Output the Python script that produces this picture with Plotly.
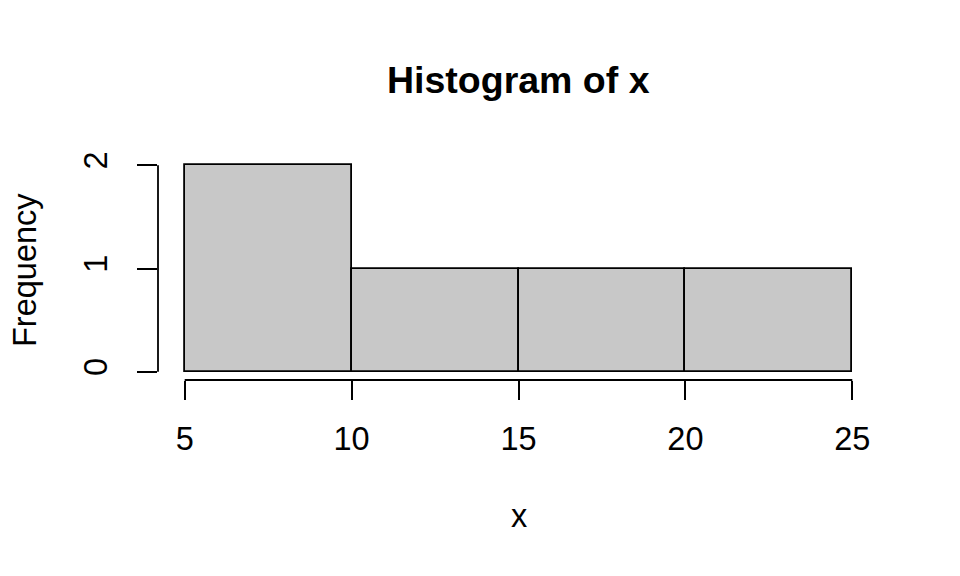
import plotly.graph_objects as go

# Data
bin_edges = [5, 10, 15, 20, 25]
counts = [2, 1, 1, 1]
x_ticks = [5, 10, 15, 20, 25]
y_ticks = [0, 1, 2]
title_text = "Histogram of x"
x_label = "x"
y_label = "Frequency"

centers = [(a + b) / 2 for a, b in zip(bin_edges[:-1], bin_edges[1:])]
widths = [b - a for a, b in zip(bin_edges[:-1], bin_edges[1:])]

FONT = "Liberation Sans, Arial, Helvetica, sans-serif"
LW = 1.8
FS = 32.5
FS_TITLE = 37.5

# page body has an 8px margin; target screen coordinates are offset by it
OFF = 8
W, H = 960, 576
L_scr, R_scr, T_scr, B_scr = 158, 879, 157, 380
ml = L_scr - OFF
mr = W - (R_scr - OFF)
mt = T_scr - OFF
mb = H - (B_scr - OFF)
plot_w = W - ml - mr
plot_h = H - mt - mb

def py(scr_y):
    return (H - mb - (scr_y - OFF)) / plot_h

def px(scr_x):
    return ((scr_x - OFF) - ml) / plot_w

fig = go.Figure()
fig.add_trace(go.Bar(
    x=centers, y=counts, width=widths,
    marker=dict(color="#C8C8C8", line=dict(color="black", width=LW)),
    hoverinfo="skip",
))

xmin, xmax = min(bin_edges), max(bin_edges)
xpad = 0.04 * (xmax - xmin)
ymax = max(counts)
ypad = 0.04 * ymax

fig.update_layout(
    width=W, height=H,
    margin=dict(l=ml, r=mr, t=mt, b=mb),
    paper_bgcolor="white", plot_bgcolor="white",
    showlegend=False,
    bargap=0,
    font=dict(family=FONT, size=FS, color="black"),
    xaxis=dict(
        range=[xmin - xpad, xmax + xpad],
        tickvals=x_ticks, ticktext=[str(v) for v in x_ticks],
        ticks="outside", ticklen=19, tickwidth=LW, tickcolor="black",
        showline=False, showgrid=False, zeroline=False,
        tickfont=dict(size=FS), ticklabelstandoff=11,
    ),
    yaxis=dict(
        range=[-ypad, ymax + ypad],
        tickvals=y_ticks, ticktext=[str(v) for v in y_ticks],
        ticks="outside", ticklen=20, tickwidth=LW, tickcolor="black",
        showline=False, showgrid=False, zeroline=False,
        tickangle=-90, tickfont=dict(size=FS), ticklabelstandoff=17,
    ),
    shapes=[
        dict(type="line", xref="x", yref="paper",
             x0=min(x_ticks), x1=max(x_ticks), y0=0, y1=0,
             line=dict(color="black", width=LW)),
        dict(type="line", xref="paper", yref="y",
             x0=0, x1=0, y0=min(y_ticks), y1=max(y_ticks),
             line=dict(color="black", width=LW)),
    ],
)

fig.add_annotation(text="<b>" + title_text + "</b>", xref="paper", yref="paper",
                   x=0.5, y=py(80), showarrow=False, font=dict(size=FS_TITLE),
                   xanchor="center", yanchor="middle")
fig.add_annotation(text=x_label, xref="paper", yref="paper",
                   x=0.5, y=py(516), showarrow=False, font=dict(size=FS),
                   xanchor="center", yanchor="middle")
fig.add_annotation(text=y_label, xref="paper", yref="paper",
                   x=px(25), y=py(270), showarrow=False, font=dict(size=FS),
                   textangle=-90, xanchor="center", yanchor="middle")

fig.write_html("out.html")
